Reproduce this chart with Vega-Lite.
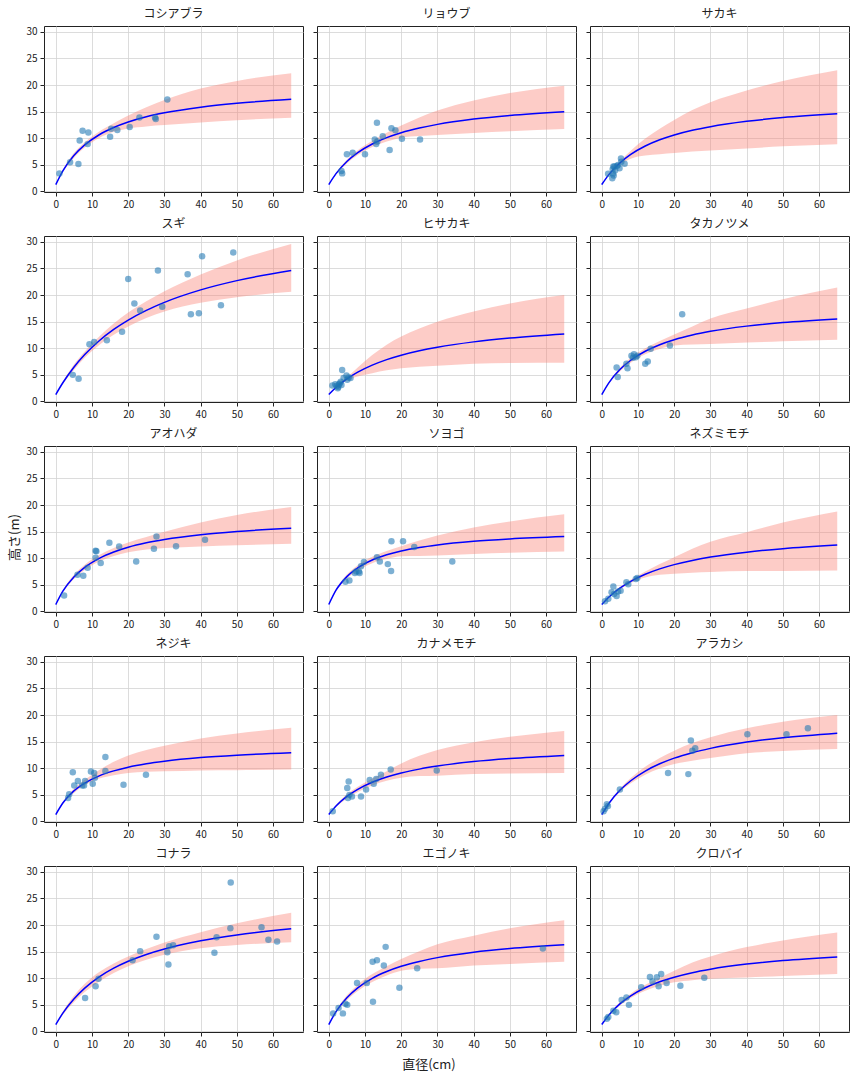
{
"$schema":"https://vega.github.io/schema/vega-lite/v6.json",
"padding":{"left":8,"top":7,"right":5,"bottom":5},
"title":{"text":"直径(cm)","orient":"bottom","anchor":"middle","fontSize":13,"offset":9,"fontWeight":"normal","color":"#222"},
"config":{
 "font":"Noto Sans CJK JP",
 "view":{"stroke":"#222","strokeWidth":1},
 "axis":{"domain":false,"grid":true,"gridColor":"#d3d3d3","gridWidth":0.8,"tickColor":"#222","tickSize":4,"labelFontSize":10,"labelColor":"#222","labelPadding":3,"titleFontSize":13,"titleFontWeight":"normal","titleColor":"#222","titlePadding":4},
 "axisX":{"tickCount":7},
 "axisY":{"tickCount":6},
 "title":{"fontSize":12,"fontWeight":"normal","color":"#222","offset":5},
 "area":{"color":"#fa8072","opacity":0.4,"interpolate":"monotone"},
 "line":{"color":"#0000ff","strokeWidth":1.5,"interpolate":"monotone"},
 "circle":{"color":"#1f77b4","opacity":0.58,"size":42}
},
"datasets":{
"crv":[
{"s":"コシアブラ","d":0,"m":1.3,"lo":1.3,"hi":1.3},{"s":"コシアブラ","d":2,"m":3.93,"lo":3.73,"hi":4.13},{"s":"コシアブラ","d":5,"m":6.76,"lo":6.31,"hi":7.21},{"s":"コシアブラ","d":8,"m":8.75,"lo":8.25,"hi":9.25},{"s":"コシアブラ","d":12,"m":10.66,"lo":10.06,"hi":11.26},{"s":"コシアブラ","d":16,"m":12.02,"lo":11.22,"hi":12.82},{"s":"コシアブラ","d":20,"m":13.05,"lo":11.85,"hi":14.3},{"s":"コシアブラ","d":25,"m":14.03,"lo":12.23,"hi":15.83},{"s":"コシアブラ","d":30,"m":14.78,"lo":12.48,"hi":17.18},{"s":"コシアブラ","d":40,"m":15.85,"lo":12.95,"hi":19.35},{"s":"コシアブラ","d":50,"m":16.58,"lo":13.38,"hi":20.78},{"s":"コシアブラ","d":65,"m":17.32,"lo":13.87,"hi":22.22},
{"s":"リョウブ","d":0,"m":1.3,"lo":1.3,"hi":1.3},{"s":"リョウブ","d":2,"m":3.35,"lo":3.2,"hi":3.5},{"s":"リョウブ","d":5,"m":5.63,"lo":5.28,"hi":5.98},{"s":"リョウブ","d":8,"m":7.29,"lo":6.84,"hi":7.74},{"s":"リョウブ","d":12,"m":8.92,"lo":8.37,"hi":9.52},{"s":"リョウブ","d":16,"m":10.12,"lo":9.37,"hi":11.02},{"s":"リョウブ","d":20,"m":11.04,"lo":10.09,"hi":12.39},{"s":"リョウブ","d":25,"m":11.92,"lo":10.42,"hi":13.92},{"s":"リョウブ","d":30,"m":12.61,"lo":10.61,"hi":15.21},{"s":"リョウブ","d":40,"m":13.6,"lo":11.0,"hi":17.1},{"s":"リョウブ","d":50,"m":14.29,"lo":11.34,"hi":18.49},{"s":"リョウブ","d":65,"m":14.99,"lo":11.74,"hi":19.89},
{"s":"サカキ","d":0,"m":1.3,"lo":1.3,"hi":1.3},{"s":"サカキ","d":2,"m":3.21,"lo":3.11,"hi":3.31},{"s":"サカキ","d":5,"m":5.36,"lo":5.06,"hi":5.66},{"s":"サカキ","d":8,"m":6.96,"lo":6.16,"hi":7.66},{"s":"サカキ","d":12,"m":8.54,"lo":6.74,"hi":9.94},{"s":"サカキ","d":16,"m":9.71,"lo":7.01,"hi":11.81},{"s":"サカキ","d":20,"m":10.62,"lo":7.22,"hi":13.42},{"s":"サカキ","d":25,"m":11.5,"lo":7.5,"hi":15.3},{"s":"サカキ","d":30,"m":12.18,"lo":7.68,"hi":16.78},{"s":"サカキ","d":40,"m":13.18,"lo":8.08,"hi":18.98},{"s":"サカキ","d":50,"m":13.88,"lo":8.48,"hi":20.78},{"s":"サカキ","d":65,"m":14.59,"lo":8.89,"hi":22.79},
{"s":"スギ","d":0,"m":1.3,"lo":1.3,"hi":1.3},{"s":"スギ","d":2,"m":3.56,"lo":3.36,"hi":3.76},{"s":"スギ","d":5,"m":6.43,"lo":5.93,"hi":6.93},{"s":"スギ","d":8,"m":8.81,"lo":8.21,"hi":9.41},{"s":"スギ","d":12,"m":11.42,"lo":10.62,"hi":12.22},{"s":"スギ","d":16,"m":13.54,"lo":12.54,"hi":14.64},{"s":"スギ","d":20,"m":15.3,"lo":14.1,"hi":16.7},{"s":"スギ","d":25,"m":17.13,"lo":15.68,"hi":18.83},{"s":"スギ","d":30,"m":18.63,"lo":16.93,"hi":20.73},{"s":"スギ","d":40,"m":20.97,"lo":18.57,"hi":23.87},{"s":"スギ","d":50,"m":22.71,"lo":19.61,"hi":26.51},{"s":"スギ","d":65,"m":24.6,"lo":20.6,"hi":29.6},
{"s":"ヒサカキ","d":0,"m":1.3,"lo":1.3,"hi":1.3},{"s":"ヒサカキ","d":2,"m":2.63,"lo":2.53,"hi":2.73},{"s":"ヒサカキ","d":5,"m":4.23,"lo":3.93,"hi":4.53},{"s":"ヒサカキ","d":8,"m":5.5,"lo":4.7,"hi":6.4},{"s":"ヒサカキ","d":12,"m":6.82,"lo":5.32,"hi":8.72},{"s":"ヒサカキ","d":16,"m":7.86,"lo":5.86,"hi":10.66},{"s":"ヒサカキ","d":20,"m":8.69,"lo":6.24,"hi":12.19},{"s":"ヒサカキ","d":25,"m":9.52,"lo":6.52,"hi":13.72},{"s":"ヒサカキ","d":30,"m":10.19,"lo":6.69,"hi":14.99},{"s":"ヒサカキ","d":40,"m":11.2,"lo":7.1,"hi":16.9},{"s":"ヒサカキ","d":50,"m":11.92,"lo":7.22,"hi":18.42},{"s":"ヒサカキ","d":65,"m":12.69,"lo":7.29,"hi":19.99},
{"s":"タカノツメ","d":0,"m":1.3,"lo":1.3,"hi":1.3},{"s":"タカノツメ","d":2,"m":3.55,"lo":3.4,"hi":3.7},{"s":"タカノツメ","d":5,"m":6.0,"lo":5.65,"hi":6.35},{"s":"タカノツメ","d":8,"m":7.75,"lo":7.3,"hi":8.2},{"s":"タカノツメ","d":12,"m":9.44,"lo":8.89,"hi":9.99},{"s":"タカノツメ","d":16,"m":10.67,"lo":9.87,"hi":11.37},{"s":"タカノツメ","d":20,"m":11.6,"lo":10.5,"hi":12.6},{"s":"タカノツメ","d":25,"m":12.49,"lo":10.69,"hi":14.09},{"s":"タカノツメ","d":30,"m":13.18,"lo":10.78,"hi":15.58},{"s":"タカノツメ","d":40,"m":14.16,"lo":11.06,"hi":17.46},{"s":"タカノツメ","d":50,"m":14.83,"lo":11.33,"hi":19.23},{"s":"タカノツメ","d":65,"m":15.51,"lo":11.61,"hi":21.41},
{"s":"アオハダ","d":0,"m":1.3,"lo":1.3,"hi":1.3},{"s":"アオハダ","d":2,"m":3.85,"lo":3.65,"hi":4.05},{"s":"アオハダ","d":5,"m":6.49,"lo":6.09,"hi":6.89},{"s":"アオハダ","d":8,"m":8.3,"lo":7.8,"hi":8.8},{"s":"アオハダ","d":12,"m":9.99,"lo":9.39,"hi":10.59},{"s":"アオハダ","d":16,"m":11.18,"lo":10.43,"hi":11.93},{"s":"アオハダ","d":20,"m":12.07,"lo":11.12,"hi":12.97},{"s":"アオハダ","d":25,"m":12.9,"lo":11.65,"hi":14.0},{"s":"アオハダ","d":30,"m":13.53,"lo":11.93,"hi":14.98},{"s":"アオハダ","d":40,"m":14.43,"lo":12.23,"hi":16.73},{"s":"アオハダ","d":50,"m":15.03,"lo":12.43,"hi":18.13},{"s":"アオハダ","d":65,"m":15.63,"lo":12.73,"hi":19.63},
{"s":"ソヨゴ","d":0,"m":1.3,"lo":1.3,"hi":1.3},{"s":"ソヨゴ","d":2,"m":3.99,"lo":3.79,"hi":4.19},{"s":"ソヨゴ","d":5,"m":6.55,"lo":6.15,"hi":6.95},{"s":"ソヨゴ","d":8,"m":8.2,"lo":7.7,"hi":8.7},{"s":"ソヨゴ","d":12,"m":9.67,"lo":9.07,"hi":10.27},{"s":"ソヨゴ","d":16,"m":10.65,"lo":9.85,"hi":11.35},{"s":"ソヨゴ","d":20,"m":11.37,"lo":10.37,"hi":12.27},{"s":"ソヨゴ","d":25,"m":12.02,"lo":10.42,"hi":13.32},{"s":"ソヨゴ","d":30,"m":12.51,"lo":10.51,"hi":14.26},{"s":"ソヨゴ","d":40,"m":13.19,"lo":10.79,"hi":15.79},{"s":"ソヨゴ","d":50,"m":13.63,"lo":11.03,"hi":16.93},{"s":"ソヨゴ","d":65,"m":14.07,"lo":11.27,"hi":18.27},
{"s":"ネズミモチ","d":0,"m":1.3,"lo":1.3,"hi":1.3},{"s":"ネズミモチ","d":2,"m":2.72,"lo":2.62,"hi":2.82},{"s":"ネズミモチ","d":5,"m":4.38,"lo":4.18,"hi":4.58},{"s":"ネズミモチ","d":8,"m":5.67,"lo":5.37,"hi":5.97},{"s":"ネズミモチ","d":12,"m":6.99,"lo":6.39,"hi":7.49},{"s":"ネズミモチ","d":16,"m":8.0,"lo":6.9,"hi":8.9},{"s":"ネズミモチ","d":20,"m":8.8,"lo":7.1,"hi":10.2},{"s":"ネズミモチ","d":25,"m":9.59,"lo":7.29,"hi":11.79},{"s":"ネズミモチ","d":30,"m":10.22,"lo":7.42,"hi":13.12},{"s":"ネズミモチ","d":40,"m":11.15,"lo":7.6,"hi":14.9},{"s":"ネズミモチ","d":50,"m":11.81,"lo":7.61,"hi":16.71},{"s":"ネズミモチ","d":65,"m":12.5,"lo":7.7,"hi":18.8},
{"s":"ネジキ","d":0,"m":1.3,"lo":1.3,"hi":1.3},{"s":"ネジキ","d":2,"m":3.51,"lo":3.31,"hi":3.71},{"s":"ネジキ","d":5,"m":5.74,"lo":5.34,"hi":6.14},{"s":"ネジキ","d":8,"m":7.22,"lo":6.82,"hi":7.82},{"s":"ネジキ","d":12,"m":8.58,"lo":8.08,"hi":9.68},{"s":"ネジキ","d":16,"m":9.51,"lo":8.71,"hi":11.21},{"s":"ネジキ","d":20,"m":10.2,"lo":9.1,"hi":12.4},{"s":"ネジキ","d":25,"m":10.84,"lo":9.34,"hi":13.44},{"s":"ネジキ","d":30,"m":11.32,"lo":9.42,"hi":14.22},{"s":"ネジキ","d":40,"m":12.0,"lo":9.6,"hi":15.6},{"s":"ネジキ","d":50,"m":12.45,"lo":9.65,"hi":16.55},{"s":"ネジキ","d":65,"m":12.9,"lo":9.75,"hi":17.6},
{"s":"カナメモチ","d":0,"m":1.3,"lo":1.3,"hi":1.3},{"s":"カナメモチ","d":2,"m":2.9,"lo":2.7,"hi":3.1},{"s":"カナメモチ","d":5,"m":4.71,"lo":4.31,"hi":5.11},{"s":"カナメモチ","d":8,"m":6.04,"lo":5.54,"hi":6.54},{"s":"カナメモチ","d":12,"m":7.37,"lo":6.77,"hi":8.07},{"s":"カナメモチ","d":16,"m":8.35,"lo":7.65,"hi":9.45},{"s":"カナメモチ","d":20,"m":9.11,"lo":8.21,"hi":10.91},{"s":"カナメモチ","d":25,"m":9.84,"lo":8.54,"hi":12.34},{"s":"カナメモチ","d":30,"m":10.41,"lo":8.61,"hi":13.41},{"s":"カナメモチ","d":40,"m":11.25,"lo":8.9,"hi":14.9},{"s":"カナメモチ","d":50,"m":11.82,"lo":9.02,"hi":15.92},{"s":"カナメモチ","d":65,"m":12.42,"lo":9.12,"hi":17.02},
{"s":"アラカシ","d":0,"m":1.3,"lo":1.3,"hi":1.3},{"s":"アラカシ","d":2,"m":3.42,"lo":3.27,"hi":3.57},{"s":"アラカシ","d":5,"m":5.85,"lo":5.55,"hi":6.15},{"s":"アラカシ","d":8,"m":7.66,"lo":7.16,"hi":8.16},{"s":"アラカシ","d":12,"m":9.48,"lo":8.78,"hi":10.28},{"s":"アラカシ","d":16,"m":10.84,"lo":9.94,"hi":11.94},{"s":"アラカシ","d":20,"m":11.9,"lo":10.8,"hi":13.3},{"s":"アラカシ","d":25,"m":12.93,"lo":11.43,"hi":14.73},{"s":"アラカシ","d":30,"m":13.74,"lo":11.94,"hi":15.84},{"s":"アラカシ","d":40,"m":14.92,"lo":12.82,"hi":17.52},{"s":"アラカシ","d":50,"m":15.74,"lo":13.24,"hi":18.74},{"s":"アラカシ","d":65,"m":16.6,"lo":13.6,"hi":20.0},
{"s":"コナラ","d":0,"m":1.3,"lo":1.3,"hi":1.3},{"s":"コナラ","d":2,"m":3.5,"lo":3.2,"hi":3.8},{"s":"コナラ","d":5,"m":6.11,"lo":5.51,"hi":6.71},{"s":"コナラ","d":8,"m":8.15,"lo":7.4,"hi":8.95},{"s":"コナラ","d":12,"m":10.26,"lo":9.41,"hi":11.16},{"s":"コナラ","d":16,"m":11.89,"lo":10.99,"hi":12.79},{"s":"コナラ","d":20,"m":13.19,"lo":12.24,"hi":14.09},{"s":"コナラ","d":25,"m":14.48,"lo":13.48,"hi":15.48},{"s":"コナラ","d":30,"m":15.51,"lo":14.41,"hi":16.71},{"s":"コナラ","d":40,"m":17.04,"lo":15.64,"hi":18.64},{"s":"コナラ","d":50,"m":18.14,"lo":16.24,"hi":20.34},{"s":"コナラ","d":65,"m":19.29,"lo":16.79,"hi":22.29},
{"s":"エゴノキ","d":0,"m":1.3,"lo":1.3,"hi":1.3},{"s":"エゴノキ","d":2,"m":3.73,"lo":3.53,"hi":3.93},{"s":"エゴノキ","d":5,"m":6.34,"lo":5.89,"hi":6.79},{"s":"エゴノキ","d":8,"m":8.2,"lo":7.6,"hi":8.8},{"s":"エゴノキ","d":12,"m":9.99,"lo":9.29,"hi":10.79},{"s":"エゴノキ","d":16,"m":11.27,"lo":10.52,"hi":12.27},{"s":"エゴノキ","d":20,"m":12.25,"lo":11.4,"hi":13.6},{"s":"エゴノキ","d":25,"m":13.17,"lo":11.77,"hi":15.07},{"s":"エゴノキ","d":30,"m":13.88,"lo":11.88,"hi":16.38},{"s":"エゴノキ","d":40,"m":14.9,"lo":12.4,"hi":18.0},{"s":"エゴノキ","d":50,"m":15.59,"lo":12.69,"hi":19.39},{"s":"エゴノキ","d":65,"m":16.3,"lo":13.1,"hi":20.9},
{"s":"クロバイ","d":0,"m":1.3,"lo":1.3,"hi":1.3},{"s":"クロバイ","d":2,"m":3.12,"lo":2.97,"hi":3.27},{"s":"クロバイ","d":5,"m":5.18,"lo":4.88,"hi":5.48},{"s":"クロバイ","d":8,"m":6.7,"lo":6.3,"hi":7.1},{"s":"クロバイ","d":12,"m":8.21,"lo":7.66,"hi":8.76},{"s":"クロバイ","d":16,"m":9.34,"lo":8.59,"hi":10.09},{"s":"クロバイ","d":20,"m":10.2,"lo":9.25,"hi":11.4},{"s":"クロバイ","d":25,"m":11.05,"lo":9.65,"hi":12.95},{"s":"クロバイ","d":30,"m":11.7,"lo":9.9,"hi":14.1},{"s":"クロバイ","d":40,"m":12.66,"lo":10.16,"hi":15.86},{"s":"クロバイ","d":50,"m":13.32,"lo":10.42,"hi":17.12},{"s":"クロバイ","d":65,"m":14.0,"lo":10.8,"hi":18.6}
],
"pts":[
{"s":"コシアブラ","d":1.0,"h":3.4},{"s":"コシアブラ","d":3.95,"h":5.5},{"s":"コシアブラ","d":6.25,"h":5.15},{"s":"コシアブラ","d":6.6,"h":9.6},{"s":"コシアブラ","d":7.4,"h":11.4},{"s":"コシアブラ","d":9.0,"h":11.1},{"s":"コシアブラ","d":8.8,"h":8.9},{"s":"コシアブラ","d":15.0,"h":10.3},{"s":"コシアブラ","d":15.3,"h":11.8},{"s":"コシアブラ","d":17.0,"h":11.55},{"s":"コシアブラ","d":20.4,"h":12.1},{"s":"コシアブラ","d":23.1,"h":13.9},{"s":"コシアブラ","d":27.4,"h":13.9},{"s":"コシアブラ","d":27.6,"h":13.6},{"s":"コシアブラ","d":30.8,"h":17.3},
{"s":"リョウブ","d":3.5,"h":3.85},{"s":"リョウブ","d":3.7,"h":3.4},{"s":"リョウブ","d":5.0,"h":7.0},{"s":"リョウブ","d":6.6,"h":7.3},{"s":"リョウブ","d":10.0,"h":7.0},{"s":"リョウブ","d":12.7,"h":9.75},{"s":"リョウブ","d":13.1,"h":8.9},{"s":"リョウブ","d":13.3,"h":12.9},{"s":"リョウブ","d":13.4,"h":9.4},{"s":"リョウブ","d":14.9,"h":10.4},{"s":"リョウブ","d":16.8,"h":7.8},{"s":"リョウブ","d":17.3,"h":11.9},{"s":"リョウブ","d":18.4,"h":11.5},{"s":"リョウブ","d":20.2,"h":9.9},{"s":"リョウブ","d":25.2,"h":9.75},
{"s":"サカキ","d":1.75,"h":3.35},{"s":"サカキ","d":2.9,"h":2.5},{"s":"サカキ","d":3.1,"h":3.4},{"s":"サカキ","d":3.3,"h":3.0},{"s":"サカキ","d":3.2,"h":4.7},{"s":"サカキ","d":3.5,"h":4.7},{"s":"サカキ","d":3.7,"h":4.0},{"s":"サカキ","d":4.2,"h":4.8},{"s":"サカキ","d":4.9,"h":4.35},{"s":"サカキ","d":5.3,"h":6.2},{"s":"サカキ","d":5.4,"h":5.6},{"s":"サカキ","d":6.3,"h":5.2},{"s":"サカキ","d":3.0,"h":4.2},{"s":"サカキ","d":4.5,"h":5.0},
{"s":"スギ","d":4.7,"h":5.0},{"s":"スギ","d":6.3,"h":4.25},{"s":"スギ","d":9.3,"h":10.75},{"s":"スギ","d":10.6,"h":11.2},{"s":"スギ","d":14.1,"h":11.5},{"s":"スギ","d":18.3,"h":13.1},{"s":"スギ","d":20.0,"h":23.0},{"s":"スギ","d":21.7,"h":18.4},{"s":"スギ","d":23.3,"h":17.1},{"s":"スギ","d":28.2,"h":24.6},{"s":"スギ","d":29.4,"h":17.8},{"s":"スギ","d":36.4,"h":23.9},{"s":"スギ","d":37.3,"h":16.4},{"s":"スギ","d":39.5,"h":16.6},{"s":"スギ","d":40.4,"h":27.3},{"s":"スギ","d":45.6,"h":18.1},{"s":"スギ","d":49.0,"h":28.0},
{"s":"ヒサカキ","d":1.0,"h":3.0},{"s":"ヒサカキ","d":1.8,"h":3.25},{"s":"ヒサカキ","d":2.6,"h":2.7},{"s":"ヒサカキ","d":3.0,"h":3.4},{"s":"ヒサカキ","d":3.7,"h":5.9},{"s":"ヒサカキ","d":3.5,"h":3.1},{"s":"ヒサカキ","d":4.1,"h":4.4},{"s":"ヒサカキ","d":4.9,"h":4.9},{"s":"ヒサカキ","d":5.5,"h":4.5},{"s":"ヒサカキ","d":6.0,"h":4.4},{"s":"ヒサカキ","d":5.1,"h":4.1},{"s":"ヒサカキ","d":2.2,"h":2.9},{"s":"ヒサカキ","d":2.8,"h":3.2},{"s":"ヒサカキ","d":3.3,"h":3.7},{"s":"ヒサカキ","d":2.5,"h":2.5},
{"s":"タカノツメ","d":4.1,"h":6.4},{"s":"タカノツメ","d":4.4,"h":4.6},{"s":"タカノツメ","d":6.8,"h":7.1},{"s":"タカノツメ","d":7.1,"h":6.25},{"s":"タカノツメ","d":8.2,"h":8.6},{"s":"タカノツメ","d":8.9,"h":8.9},{"s":"タカノツメ","d":9.4,"h":8.3},{"s":"タカノツメ","d":9.8,"h":8.6},{"s":"タカノツメ","d":8.6,"h":8.2},{"s":"タカノツメ","d":12.0,"h":7.1},{"s":"タカノツメ","d":12.7,"h":7.5},{"s":"タカノツメ","d":13.5,"h":9.9},{"s":"タカノツメ","d":18.8,"h":10.5},{"s":"タカノツメ","d":22.2,"h":16.4},
{"s":"アオハダ","d":2.3,"h":3.0},{"s":"アオハダ","d":6.0,"h":6.9},{"s":"アオハダ","d":7.6,"h":6.7},{"s":"アオハダ","d":8.8,"h":8.2},{"s":"アオハダ","d":11.0,"h":11.4},{"s":"アオハダ","d":11.2,"h":11.3},{"s":"アオハダ","d":11.0,"h":10.1},{"s":"アオハダ","d":12.4,"h":9.1},{"s":"アオハダ","d":14.8,"h":12.9},{"s":"アオハダ","d":17.5,"h":12.2},{"s":"アオハダ","d":22.2,"h":9.4},{"s":"アオハダ","d":27.1,"h":11.8},{"s":"アオハダ","d":27.8,"h":14.1},{"s":"アオハダ","d":33.2,"h":12.25},{"s":"アオハダ","d":41.2,"h":13.5},
{"s":"ソヨゴ","d":4.6,"h":5.6},{"s":"ソヨゴ","d":5.7,"h":5.8},{"s":"ソヨゴ","d":7.2,"h":7.25},{"s":"ソヨゴ","d":7.6,"h":7.5},{"s":"ソヨゴ","d":8.3,"h":7.5},{"s":"ソヨゴ","d":8.5,"h":7.25},{"s":"ソヨゴ","d":8.9,"h":8.5},{"s":"ソヨゴ","d":9.7,"h":9.3},{"s":"ソヨゴ","d":13.3,"h":10.2},{"s":"ソヨゴ","d":14.1,"h":9.4},{"s":"ソヨゴ","d":16.3,"h":8.9},{"s":"ソヨゴ","d":17.2,"h":7.6},{"s":"ソヨゴ","d":17.3,"h":13.2},{"s":"ソヨゴ","d":20.5,"h":13.2},{"s":"ソヨゴ","d":23.6,"h":12.1},{"s":"ソヨゴ","d":34.1,"h":9.4},
{"s":"ネズミモチ","d":0.9,"h":1.9},{"s":"ネズミモチ","d":1.8,"h":2.4},{"s":"ネズミモチ","d":2.7,"h":3.6},{"s":"ネズミモチ","d":3.2,"h":4.7},{"s":"ネズミモチ","d":3.4,"h":3.3},{"s":"ネズミモチ","d":4.1,"h":2.9},{"s":"ネズミモチ","d":4.5,"h":3.75},{"s":"ネズミモチ","d":5.2,"h":3.9},{"s":"ネズミモチ","d":6.8,"h":5.5},{"s":"ネズミモチ","d":7.3,"h":5.1},{"s":"ネズミモチ","d":9.4,"h":6.1},{"s":"ネズミモチ","d":9.8,"h":6.3},
{"s":"ネジキ","d":3.4,"h":4.4},{"s":"ネジキ","d":3.7,"h":5.1},{"s":"ネジキ","d":4.7,"h":9.25},{"s":"ネジキ","d":5.1,"h":6.75},{"s":"ネジキ","d":6.1,"h":7.6},{"s":"ネジキ","d":7.3,"h":6.75},{"s":"ネジキ","d":7.8,"h":6.75},{"s":"ネジキ","d":8.1,"h":7.6},{"s":"ネジキ","d":9.7,"h":9.4},{"s":"ネジキ","d":10.2,"h":7.1},{"s":"ネジキ","d":10.6,"h":9.1},{"s":"ネジキ","d":10.8,"h":8.2},{"s":"ネジキ","d":13.7,"h":12.1},{"s":"ネジキ","d":13.7,"h":9.5},{"s":"ネジキ","d":18.7,"h":6.9},{"s":"ネジキ","d":24.9,"h":8.8},
{"s":"カナメモチ","d":1.1,"h":1.9},{"s":"カナメモチ","d":5.1,"h":6.3},{"s":"カナメモチ","d":5.5,"h":7.5},{"s":"カナメモチ","d":5.3,"h":4.4},{"s":"カナメモチ","d":5.7,"h":5.0},{"s":"カナメモチ","d":6.4,"h":4.7},{"s":"カナメモチ","d":8.9,"h":4.7},{"s":"カナメモチ","d":10.3,"h":6.0},{"s":"カナメモチ","d":11.3,"h":7.8},{"s":"カナメモチ","d":12.4,"h":7.1},{"s":"カナメモチ","d":13.1,"h":8.0},{"s":"カナメモチ","d":14.4,"h":8.8},{"s":"カナメモチ","d":17.1,"h":9.75},{"s":"カナメモチ","d":29.8,"h":9.6},
{"s":"アラカシ","d":0.5,"h":1.9},{"s":"アラカシ","d":0.9,"h":2.4},{"s":"アラカシ","d":1.4,"h":3.25},{"s":"アラカシ","d":1.7,"h":2.9},{"s":"アラカシ","d":5.0,"h":6.0},{"s":"アラカシ","d":18.3,"h":9.1},{"s":"アラカシ","d":23.9,"h":8.9},{"s":"アラカシ","d":24.6,"h":15.2},{"s":"アラカシ","d":25.0,"h":13.3},{"s":"アラカシ","d":25.8,"h":13.75},{"s":"アラカシ","d":40.2,"h":16.4},{"s":"アラカシ","d":51.0,"h":16.4},{"s":"アラカシ","d":56.9,"h":17.5},
{"s":"コナラ","d":8.1,"h":6.3},{"s":"コナラ","d":11.0,"h":8.5},{"s":"コナラ","d":11.8,"h":9.9},{"s":"コナラ","d":21.2,"h":13.4},{"s":"コナラ","d":23.3,"h":15.1},{"s":"コナラ","d":27.8,"h":17.8},{"s":"コナラ","d":30.8,"h":14.9},{"s":"コナラ","d":31.1,"h":12.6},{"s":"コナラ","d":31.3,"h":16.0},{"s":"コナラ","d":32.4,"h":16.2},{"s":"コナラ","d":43.8,"h":14.8},{"s":"コナラ","d":44.4,"h":17.7},{"s":"コナラ","d":48.2,"h":19.4},{"s":"コナラ","d":48.3,"h":28.0},{"s":"コナラ","d":56.8,"h":19.6},{"s":"コナラ","d":58.7,"h":17.25},{"s":"コナラ","d":61.1,"h":16.9},
{"s":"エゴノキ","d":1.2,"h":3.4},{"s":"エゴノキ","d":2.7,"h":4.4},{"s":"エゴノキ","d":3.9,"h":3.4},{"s":"エゴノキ","d":4.6,"h":5.2},{"s":"エゴノキ","d":5.1,"h":5.0},{"s":"エゴノキ","d":7.8,"h":9.1},{"s":"エゴノキ","d":10.5,"h":9.1},{"s":"エゴノキ","d":12.1,"h":13.1},{"s":"エゴノキ","d":12.2,"h":5.6},{"s":"エゴノキ","d":13.3,"h":13.4},{"s":"エゴノキ","d":15.2,"h":12.4},{"s":"エゴノキ","d":15.7,"h":15.9},{"s":"エゴノキ","d":19.5,"h":8.2},{"s":"エゴノキ","d":24.4,"h":11.9},{"s":"エゴノキ","d":59.1,"h":15.6},
{"s":"クロバイ","d":1.4,"h":2.4},{"s":"クロバイ","d":1.8,"h":2.7},{"s":"クロバイ","d":3.2,"h":3.9},{"s":"クロバイ","d":4.0,"h":3.6},{"s":"クロバイ","d":5.5,"h":5.9},{"s":"クロバイ","d":6.8,"h":6.4},{"s":"クロバイ","d":7.5,"h":5.0},{"s":"クロバイ","d":10.9,"h":8.3},{"s":"クロバイ","d":13.3,"h":10.25},{"s":"クロバイ","d":14.0,"h":9.4},{"s":"クロバイ","d":15.2,"h":10.2},{"s":"クロバイ","d":15.7,"h":8.5},{"s":"クロバイ","d":16.4,"h":10.8},{"s":"クロバイ","d":17.9,"h":9.1},{"s":"クロバイ","d":21.7,"h":8.6},{"s":"クロバイ","d":28.3,"h":10.1}
]
},
"columns":3,
"bounds":"flush",
"spacing":{"row":44,"column":14},
"concat":[
{"title":"コシアブラ","width":259,"height":166,"encoding":{"x":{"field":"d","type":"quantitative","scale":{"domain":[-3.25,68.25],"nice":false,"zero":false},"axis":{"title":null}}},"layer":[
{"data":{"name":"crv"},"transform":[{"filter":"datum.s==='コシアブラ'"}],"mark":"area","encoding":{"y":{"field":"lo","type":"quantitative","scale":{"domain":[-0.1,31.1],"nice":false,"zero":false},"axis":{"title":null}},"y2":{"field":"hi"}}},
{"data":{"name":"crv"},"transform":[{"filter":"datum.s==='コシアブラ'"}],"mark":"line","encoding":{"y":{"field":"m","type":"quantitative","scale":{"domain":[-0.1,31.1],"nice":false,"zero":false},"axis":{"title":null}}}},
{"data":{"name":"pts"},"transform":[{"filter":"datum.s==='コシアブラ'"}],"mark":"circle","encoding":{"y":{"field":"h","type":"quantitative","scale":{"domain":[-0.1,31.1],"nice":false,"zero":false},"axis":{"title":null}}}}]},
{"title":"リョウブ","width":259,"height":166,"encoding":{"x":{"field":"d","type":"quantitative","scale":{"domain":[-3.25,68.25],"nice":false,"zero":false},"axis":{"title":null}}},"layer":[
{"data":{"name":"crv"},"transform":[{"filter":"datum.s==='リョウブ'"}],"mark":"area","encoding":{"y":{"field":"lo","type":"quantitative","scale":{"domain":[-0.1,31.1],"nice":false,"zero":false},"axis":{"title":null,"labels":false}},"y2":{"field":"hi"}}},
{"data":{"name":"crv"},"transform":[{"filter":"datum.s==='リョウブ'"}],"mark":"line","encoding":{"y":{"field":"m","type":"quantitative","scale":{"domain":[-0.1,31.1],"nice":false,"zero":false},"axis":{"title":null,"labels":false}}}},
{"data":{"name":"pts"},"transform":[{"filter":"datum.s==='リョウブ'"}],"mark":"circle","encoding":{"y":{"field":"h","type":"quantitative","scale":{"domain":[-0.1,31.1],"nice":false,"zero":false},"axis":{"title":null,"labels":false}}}}]},
{"title":"サカキ","width":259,"height":166,"encoding":{"x":{"field":"d","type":"quantitative","scale":{"domain":[-3.25,68.25],"nice":false,"zero":false},"axis":{"title":null}}},"layer":[
{"data":{"name":"crv"},"transform":[{"filter":"datum.s==='サカキ'"}],"mark":"area","encoding":{"y":{"field":"lo","type":"quantitative","scale":{"domain":[-0.1,31.1],"nice":false,"zero":false},"axis":{"title":null,"labels":false}},"y2":{"field":"hi"}}},
{"data":{"name":"crv"},"transform":[{"filter":"datum.s==='サカキ'"}],"mark":"line","encoding":{"y":{"field":"m","type":"quantitative","scale":{"domain":[-0.1,31.1],"nice":false,"zero":false},"axis":{"title":null,"labels":false}}}},
{"data":{"name":"pts"},"transform":[{"filter":"datum.s==='サカキ'"}],"mark":"circle","encoding":{"y":{"field":"h","type":"quantitative","scale":{"domain":[-0.1,31.1],"nice":false,"zero":false},"axis":{"title":null,"labels":false}}}}]},
{"title":"スギ","width":259,"height":166,"encoding":{"x":{"field":"d","type":"quantitative","scale":{"domain":[-3.25,68.25],"nice":false,"zero":false},"axis":{"title":null}}},"layer":[
{"data":{"name":"crv"},"transform":[{"filter":"datum.s==='スギ'"}],"mark":"area","encoding":{"y":{"field":"lo","type":"quantitative","scale":{"domain":[-0.1,31.1],"nice":false,"zero":false},"axis":{"title":null}},"y2":{"field":"hi"}}},
{"data":{"name":"crv"},"transform":[{"filter":"datum.s==='スギ'"}],"mark":"line","encoding":{"y":{"field":"m","type":"quantitative","scale":{"domain":[-0.1,31.1],"nice":false,"zero":false},"axis":{"title":null}}}},
{"data":{"name":"pts"},"transform":[{"filter":"datum.s==='スギ'"}],"mark":"circle","encoding":{"y":{"field":"h","type":"quantitative","scale":{"domain":[-0.1,31.1],"nice":false,"zero":false},"axis":{"title":null}}}}]},
{"title":"ヒサカキ","width":259,"height":166,"encoding":{"x":{"field":"d","type":"quantitative","scale":{"domain":[-3.25,68.25],"nice":false,"zero":false},"axis":{"title":null}}},"layer":[
{"data":{"name":"crv"},"transform":[{"filter":"datum.s==='ヒサカキ'"}],"mark":"area","encoding":{"y":{"field":"lo","type":"quantitative","scale":{"domain":[-0.1,31.1],"nice":false,"zero":false},"axis":{"title":null,"labels":false}},"y2":{"field":"hi"}}},
{"data":{"name":"crv"},"transform":[{"filter":"datum.s==='ヒサカキ'"}],"mark":"line","encoding":{"y":{"field":"m","type":"quantitative","scale":{"domain":[-0.1,31.1],"nice":false,"zero":false},"axis":{"title":null,"labels":false}}}},
{"data":{"name":"pts"},"transform":[{"filter":"datum.s==='ヒサカキ'"}],"mark":"circle","encoding":{"y":{"field":"h","type":"quantitative","scale":{"domain":[-0.1,31.1],"nice":false,"zero":false},"axis":{"title":null,"labels":false}}}}]},
{"title":"タカノツメ","width":259,"height":166,"encoding":{"x":{"field":"d","type":"quantitative","scale":{"domain":[-3.25,68.25],"nice":false,"zero":false},"axis":{"title":null}}},"layer":[
{"data":{"name":"crv"},"transform":[{"filter":"datum.s==='タカノツメ'"}],"mark":"area","encoding":{"y":{"field":"lo","type":"quantitative","scale":{"domain":[-0.1,31.1],"nice":false,"zero":false},"axis":{"title":null,"labels":false}},"y2":{"field":"hi"}}},
{"data":{"name":"crv"},"transform":[{"filter":"datum.s==='タカノツメ'"}],"mark":"line","encoding":{"y":{"field":"m","type":"quantitative","scale":{"domain":[-0.1,31.1],"nice":false,"zero":false},"axis":{"title":null,"labels":false}}}},
{"data":{"name":"pts"},"transform":[{"filter":"datum.s==='タカノツメ'"}],"mark":"circle","encoding":{"y":{"field":"h","type":"quantitative","scale":{"domain":[-0.1,31.1],"nice":false,"zero":false},"axis":{"title":null,"labels":false}}}}]},
{"title":"アオハダ","width":259,"height":166,"encoding":{"x":{"field":"d","type":"quantitative","scale":{"domain":[-3.25,68.25],"nice":false,"zero":false},"axis":{"title":null}}},"layer":[
{"data":{"name":"crv"},"transform":[{"filter":"datum.s==='アオハダ'"}],"mark":"area","encoding":{"y":{"field":"lo","type":"quantitative","scale":{"domain":[-0.1,31.1],"nice":false,"zero":false},"axis":{"title":"高さ(m)","titleY":91}},"y2":{"field":"hi"}}},
{"data":{"name":"crv"},"transform":[{"filter":"datum.s==='アオハダ'"}],"mark":"line","encoding":{"y":{"field":"m","type":"quantitative","scale":{"domain":[-0.1,31.1],"nice":false,"zero":false},"axis":{"title":"高さ(m)","titleY":91}}}},
{"data":{"name":"pts"},"transform":[{"filter":"datum.s==='アオハダ'"}],"mark":"circle","encoding":{"y":{"field":"h","type":"quantitative","scale":{"domain":[-0.1,31.1],"nice":false,"zero":false},"axis":{"title":"高さ(m)","titleY":91}}}}]},
{"title":"ソヨゴ","width":259,"height":166,"encoding":{"x":{"field":"d","type":"quantitative","scale":{"domain":[-3.25,68.25],"nice":false,"zero":false},"axis":{"title":null}}},"layer":[
{"data":{"name":"crv"},"transform":[{"filter":"datum.s==='ソヨゴ'"}],"mark":"area","encoding":{"y":{"field":"lo","type":"quantitative","scale":{"domain":[-0.1,31.1],"nice":false,"zero":false},"axis":{"title":null,"labels":false}},"y2":{"field":"hi"}}},
{"data":{"name":"crv"},"transform":[{"filter":"datum.s==='ソヨゴ'"}],"mark":"line","encoding":{"y":{"field":"m","type":"quantitative","scale":{"domain":[-0.1,31.1],"nice":false,"zero":false},"axis":{"title":null,"labels":false}}}},
{"data":{"name":"pts"},"transform":[{"filter":"datum.s==='ソヨゴ'"}],"mark":"circle","encoding":{"y":{"field":"h","type":"quantitative","scale":{"domain":[-0.1,31.1],"nice":false,"zero":false},"axis":{"title":null,"labels":false}}}}]},
{"title":"ネズミモチ","width":259,"height":166,"encoding":{"x":{"field":"d","type":"quantitative","scale":{"domain":[-3.25,68.25],"nice":false,"zero":false},"axis":{"title":null}}},"layer":[
{"data":{"name":"crv"},"transform":[{"filter":"datum.s==='ネズミモチ'"}],"mark":"area","encoding":{"y":{"field":"lo","type":"quantitative","scale":{"domain":[-0.1,31.1],"nice":false,"zero":false},"axis":{"title":null,"labels":false}},"y2":{"field":"hi"}}},
{"data":{"name":"crv"},"transform":[{"filter":"datum.s==='ネズミモチ'"}],"mark":"line","encoding":{"y":{"field":"m","type":"quantitative","scale":{"domain":[-0.1,31.1],"nice":false,"zero":false},"axis":{"title":null,"labels":false}}}},
{"data":{"name":"pts"},"transform":[{"filter":"datum.s==='ネズミモチ'"}],"mark":"circle","encoding":{"y":{"field":"h","type":"quantitative","scale":{"domain":[-0.1,31.1],"nice":false,"zero":false},"axis":{"title":null,"labels":false}}}}]},
{"title":"ネジキ","width":259,"height":166,"encoding":{"x":{"field":"d","type":"quantitative","scale":{"domain":[-3.25,68.25],"nice":false,"zero":false},"axis":{"title":null}}},"layer":[
{"data":{"name":"crv"},"transform":[{"filter":"datum.s==='ネジキ'"}],"mark":"area","encoding":{"y":{"field":"lo","type":"quantitative","scale":{"domain":[-0.1,31.1],"nice":false,"zero":false},"axis":{"title":null}},"y2":{"field":"hi"}}},
{"data":{"name":"crv"},"transform":[{"filter":"datum.s==='ネジキ'"}],"mark":"line","encoding":{"y":{"field":"m","type":"quantitative","scale":{"domain":[-0.1,31.1],"nice":false,"zero":false},"axis":{"title":null}}}},
{"data":{"name":"pts"},"transform":[{"filter":"datum.s==='ネジキ'"}],"mark":"circle","encoding":{"y":{"field":"h","type":"quantitative","scale":{"domain":[-0.1,31.1],"nice":false,"zero":false},"axis":{"title":null}}}}]},
{"title":"カナメモチ","width":259,"height":166,"encoding":{"x":{"field":"d","type":"quantitative","scale":{"domain":[-3.25,68.25],"nice":false,"zero":false},"axis":{"title":null}}},"layer":[
{"data":{"name":"crv"},"transform":[{"filter":"datum.s==='カナメモチ'"}],"mark":"area","encoding":{"y":{"field":"lo","type":"quantitative","scale":{"domain":[-0.1,31.1],"nice":false,"zero":false},"axis":{"title":null,"labels":false}},"y2":{"field":"hi"}}},
{"data":{"name":"crv"},"transform":[{"filter":"datum.s==='カナメモチ'"}],"mark":"line","encoding":{"y":{"field":"m","type":"quantitative","scale":{"domain":[-0.1,31.1],"nice":false,"zero":false},"axis":{"title":null,"labels":false}}}},
{"data":{"name":"pts"},"transform":[{"filter":"datum.s==='カナメモチ'"}],"mark":"circle","encoding":{"y":{"field":"h","type":"quantitative","scale":{"domain":[-0.1,31.1],"nice":false,"zero":false},"axis":{"title":null,"labels":false}}}}]},
{"title":"アラカシ","width":259,"height":166,"encoding":{"x":{"field":"d","type":"quantitative","scale":{"domain":[-3.25,68.25],"nice":false,"zero":false},"axis":{"title":null}}},"layer":[
{"data":{"name":"crv"},"transform":[{"filter":"datum.s==='アラカシ'"}],"mark":"area","encoding":{"y":{"field":"lo","type":"quantitative","scale":{"domain":[-0.1,31.1],"nice":false,"zero":false},"axis":{"title":null,"labels":false}},"y2":{"field":"hi"}}},
{"data":{"name":"crv"},"transform":[{"filter":"datum.s==='アラカシ'"}],"mark":"line","encoding":{"y":{"field":"m","type":"quantitative","scale":{"domain":[-0.1,31.1],"nice":false,"zero":false},"axis":{"title":null,"labels":false}}}},
{"data":{"name":"pts"},"transform":[{"filter":"datum.s==='アラカシ'"}],"mark":"circle","encoding":{"y":{"field":"h","type":"quantitative","scale":{"domain":[-0.1,31.1],"nice":false,"zero":false},"axis":{"title":null,"labels":false}}}}]},
{"title":"コナラ","width":259,"height":166,"encoding":{"x":{"field":"d","type":"quantitative","scale":{"domain":[-3.25,68.25],"nice":false,"zero":false},"axis":{"title":null}}},"layer":[
{"data":{"name":"crv"},"transform":[{"filter":"datum.s==='コナラ'"}],"mark":"area","encoding":{"y":{"field":"lo","type":"quantitative","scale":{"domain":[-0.1,31.1],"nice":false,"zero":false},"axis":{"title":null}},"y2":{"field":"hi"}}},
{"data":{"name":"crv"},"transform":[{"filter":"datum.s==='コナラ'"}],"mark":"line","encoding":{"y":{"field":"m","type":"quantitative","scale":{"domain":[-0.1,31.1],"nice":false,"zero":false},"axis":{"title":null}}}},
{"data":{"name":"pts"},"transform":[{"filter":"datum.s==='コナラ'"}],"mark":"circle","encoding":{"y":{"field":"h","type":"quantitative","scale":{"domain":[-0.1,31.1],"nice":false,"zero":false},"axis":{"title":null}}}}]},
{"title":"エゴノキ","width":259,"height":166,"encoding":{"x":{"field":"d","type":"quantitative","scale":{"domain":[-3.25,68.25],"nice":false,"zero":false},"axis":{"title":null}}},"layer":[
{"data":{"name":"crv"},"transform":[{"filter":"datum.s==='エゴノキ'"}],"mark":"area","encoding":{"y":{"field":"lo","type":"quantitative","scale":{"domain":[-0.1,31.1],"nice":false,"zero":false},"axis":{"title":null,"labels":false}},"y2":{"field":"hi"}}},
{"data":{"name":"crv"},"transform":[{"filter":"datum.s==='エゴノキ'"}],"mark":"line","encoding":{"y":{"field":"m","type":"quantitative","scale":{"domain":[-0.1,31.1],"nice":false,"zero":false},"axis":{"title":null,"labels":false}}}},
{"data":{"name":"pts"},"transform":[{"filter":"datum.s==='エゴノキ'"}],"mark":"circle","encoding":{"y":{"field":"h","type":"quantitative","scale":{"domain":[-0.1,31.1],"nice":false,"zero":false},"axis":{"title":null,"labels":false}}}}]},
{"title":"クロバイ","width":259,"height":166,"encoding":{"x":{"field":"d","type":"quantitative","scale":{"domain":[-3.25,68.25],"nice":false,"zero":false},"axis":{"title":null}}},"layer":[
{"data":{"name":"crv"},"transform":[{"filter":"datum.s==='クロバイ'"}],"mark":"area","encoding":{"y":{"field":"lo","type":"quantitative","scale":{"domain":[-0.1,31.1],"nice":false,"zero":false},"axis":{"title":null,"labels":false}},"y2":{"field":"hi"}}},
{"data":{"name":"crv"},"transform":[{"filter":"datum.s==='クロバイ'"}],"mark":"line","encoding":{"y":{"field":"m","type":"quantitative","scale":{"domain":[-0.1,31.1],"nice":false,"zero":false},"axis":{"title":null,"labels":false}}}},
{"data":{"name":"pts"},"transform":[{"filter":"datum.s==='クロバイ'"}],"mark":"circle","encoding":{"y":{"field":"h","type":"quantitative","scale":{"domain":[-0.1,31.1],"nice":false,"zero":false},"axis":{"title":null,"labels":false}}}}]}
]
}
